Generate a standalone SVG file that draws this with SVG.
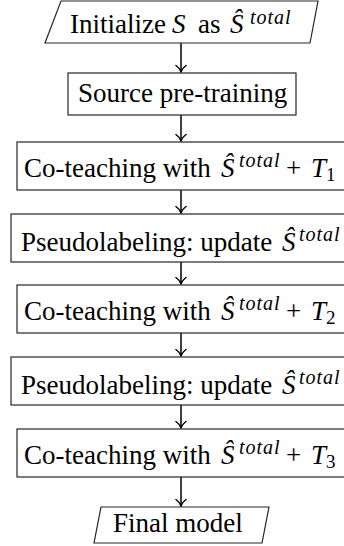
<svg xmlns="http://www.w3.org/2000/svg" width="344" height="546" viewBox="0 0 344 546">
<style>
  .box { fill: #ffffff; stroke: #262626; stroke-width: 1.2; }
  text { font-family: 'Liberation Serif', 'DejaVu Serif', serif; font-size: 27px; fill: #000; }
  .m { font-style: italic; }
  .sup { font-style: italic; font-size: 20px; letter-spacing: 1px; }
  .sub { font-size: 19px; }
  .conn { stroke: #000; stroke-width: 1.5; fill: none; marker-end: url(#arr); }
</style>
<defs>
  <marker id="arr" viewBox="-8 -6 9 12" refX="0" refY="0" markerWidth="9" markerHeight="12" markerUnits="userSpaceOnUse" orient="auto">
    <path d="M -6.5,-5 C -4.5,-2.2 -2,-0.7 0,0 C -2,0.7 -4.5,2.2 -6.5,5" fill="none" stroke="#000" stroke-width="1.5" stroke-linecap="round"/>
  </marker>
</defs>

<g id="connectors">
  <line class="conn" x1="181" y1="43" x2="181" y2="72"/>
  <line class="conn" x1="181" y1="115" x2="181" y2="141"/>
  <line class="conn" x1="181" y1="190" x2="181" y2="213"/>
  <line class="conn" x1="181" y1="262" x2="181" y2="284"/>
  <line class="conn" x1="181" y1="333" x2="181" y2="356"/>
  <line class="conn" x1="181" y1="405" x2="181" y2="428"/>
  <line class="conn" x1="181" y1="477" x2="181" y2="506"/>
</g>

<g id="init">
  <polygon class="box" points="61,1 318,1 310,43 45,43"/>
  <text font-family="Liberation Serif, serif" y="33"><tspan x="70">Initialize</tspan><tspan x="172" class="m">S</tspan><tspan x="198">as</tspan><tspan x="230" class="m">Ŝ</tspan><tspan x="250" dy="-9" class="sup">total</tspan></text>
</g>

<g id="source">
  <rect class="box" x="68" y="73" width="228" height="42"/>
  <text font-family="Liberation Serif, serif" x="78" y="102">Source pre-training</text>
</g>

<g id="coteach1">
  <rect class="box" x="17" y="142" width="330" height="48"/>
  <text y="177"><tspan x="24">Co-teaching with</tspan><tspan x="221" class="m">Ŝ</tspan><tspan x="239" dy="-10" class="sup">total</tspan><tspan x="286" dy="10">+</tspan><tspan x="311" class="m">T</tspan><tspan x="326" dy="4" class="sub">1</tspan></text>
</g>

<g id="pseudo1">
  <rect class="box" x="11" y="214" width="340" height="48"/>
  <text y="251"><tspan x="21">Pseudolabeling: update</tspan><tspan x="282" class="m">Ŝ</tspan><tspan x="299" dy="-10" class="sup">total</tspan></text>
</g>

<g id="coteach2">
  <rect class="box" x="17" y="285" width="330" height="48"/>
  <text y="320"><tspan x="24">Co-teaching with</tspan><tspan x="221" class="m">Ŝ</tspan><tspan x="239" dy="-10" class="sup">total</tspan><tspan x="286" dy="10">+</tspan><tspan x="311" class="m">T</tspan><tspan x="326" dy="4" class="sub">2</tspan></text>
</g>

<g id="pseudo2">
  <rect class="box" x="11" y="357" width="340" height="48"/>
  <text y="394"><tspan x="21">Pseudolabeling: update</tspan><tspan x="282" class="m">Ŝ</tspan><tspan x="299" dy="-10" class="sup">total</tspan></text>
</g>

<g id="coteach3">
  <rect class="box" x="17" y="429" width="330" height="48"/>
  <text y="464"><tspan x="24">Co-teaching with</tspan><tspan x="221" class="m">Ŝ</tspan><tspan x="239" dy="-10" class="sup">total</tspan><tspan x="286" dy="10">+</tspan><tspan x="311" class="m">T</tspan><tspan x="326" dy="4" class="sub">3</tspan></text>
</g>

<g id="final">
  <polygon class="box" points="101,507 269,507 262,543 94,543"/>
  <text x="113" y="532">Final model</text>
</g>
</svg>
